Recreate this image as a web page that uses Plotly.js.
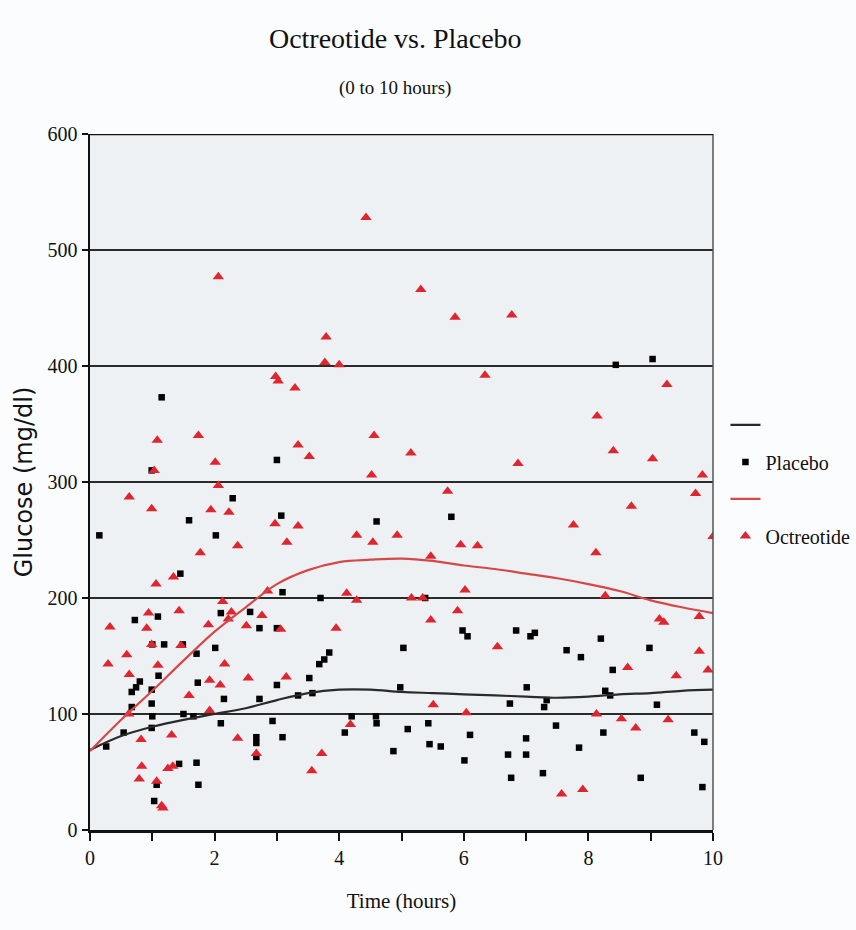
<!DOCTYPE html>
<html>
<head>
<meta charset="utf-8">
<script src="https://cdn.plot.ly/plotly-3.0.1.min.js"></script>
<style>html,body{margin:0;padding:0;background:#fafcfd;}</style>
</head>
<body>
<div id="chart" style="width:856px;height:930px;"></div>
<script>
// Placebo individual measurements
const placeboX = [0.15,0.26,0.54,0.67,0.67,0.72,0.74,0.80,0.99,0.99,0.99,1.00,1.00,0.99,1.03,1.07,1.09,1.10,1.15,1.19,
  1.43,1.45,1.49,1.50,1.59,1.66,1.71,1.71,1.73,1.74,2.01,2.02,2.10,2.10,2.15,2.29,2.57,2.67,2.67,2.67,
  2.72,2.72,2.93,3.00,3.00,3.00,3.07,3.09,3.09,3.34,3.52,3.57,3.68,3.70,3.76,3.84,4.09,4.20,4.59,4.60,
  4.60,4.87,4.98,5.03,5.10,5.38,5.43,5.45,5.63,5.80,5.98,6.01,6.06,6.10,6.71,6.74,6.76,6.84,7.00,7.00,
  7.01,7.07,7.14,7.27,7.29,7.33,7.48,7.65,7.85,7.88,8.20,8.24,8.27,8.35,8.39,8.44,8.84,8.98,9.03,9.10,
  9.70,9.83,9.86];
const placeboY = [254,72,84,106,119,181,123,128,121,109,310,160,98,88,25,39,184,133,373,160,
  57,221,160,100,267,98,152,58,127,39,157,254,187,92,113,286,188,80,75,63,
  174,113,94,174,125,319,271,205,80,116,131,118,143,200,147,153,84,98,98,92,
  266,68,123,157,87,200,92,74,72,270,172,60,167,82,65,109,45,172,79,65,
  123,167,170,49,106,112,90,155,71,149,165,84,120,116,138,401,45,157,406,108,
  84,37,76];

// Octreotide individual measurements
const octX = [0.29,0.32,0.59,0.62,0.63,0.63,0.79,0.82,0.83,0.91,0.94,0.99,0.99,1.03,1.06,1.07,1.08,1.09,1.15,1.17,
  1.25,1.31,1.33,1.34,1.43,1.46,1.59,1.74,1.77,1.90,1.92,1.92,1.94,2.01,2.06,2.06,2.09,2.13,2.16,2.22,
  2.23,2.27,2.37,2.37,2.51,2.54,2.67,2.76,2.85,2.97,2.98,3.02,3.06,3.15,3.16,3.29,3.34,3.34,3.52,3.56,
  3.72,3.77,3.79,3.95,4.00,4.12,4.18,4.28,4.28,4.43,4.52,4.54,4.56,4.93,5.15,5.16,5.31,5.34,5.47,5.47,
  5.51,5.74,5.86,5.90,5.95,6.02,6.04,6.22,6.34,6.54,6.77,6.87,7.57,7.76,7.91,8.12,8.13,8.14,8.27,8.40,
  8.53,8.63,8.69,8.76,9.03,9.14,9.21,9.26,9.28,9.41,9.72,9.78,9.78,9.83,9.92,10.0];
const octY = [143,175,151,100,134,287,44,78,55,174,187,160,277,310,212,42,336,142,21,19,
  53,82,55,218,189,159,116,340,239,177,129,103,276,317,297,477,125,197,143,182,
  274,188,245,79,176,131,66,185,206,264,391,387,173,132,248,381,332,262,322,51,
  66,403,425,174,401,204,91,198,254,528,306,248,340,254,325,200,466,200,236,181,
  108,292,442,189,246,207,101,245,392,158,444,316,31,263,35,239,100,357,202,327,
  96,140,279,88,320,182,179,384,95,133,290,184,154,306,138,253];

// Smoothed trend lines
const trendX = [0,0.5,1,1.5,2,2.5,3,3.5,4,4.5,5,5.5,6,6.5,7,7.5,8,8.5,9,9.5,10];
const placeboTrend = [69,81,89,95,100,105,112,118,121,121,119,118,117,116,115,114,115,117,118,120,121];
const octTrend = [68,95,120,146,171,192,212,224,231,233,234,232,228,225,221,217,212,206,198,192,187];

const xTicks = [0,1,2,3,4,5,6,7,8,9,10];
const xTickText = ['0','','2','','4','','6','','8','','10'];
const yTicks = [0,100,200,300,400,500,600];

const traces = [
  {x: placeboX, y: placeboY, type:'scatter', mode:'markers', name:'Placebo', legendgroup:'b', legendrank:2,
   marker:{symbol:'square', size:6.5, color:'#000'}},
  {x: octX, y: octY, type:'scatter', mode:'markers', name:'Octreotide', legendgroup:'d', legendrank:4,
   marker:{symbol:'triangle-up', size:10, color:'rgb(222,38,48)'}},
  {x: trendX, y: placeboTrend, type:'scatter', mode:'lines', name:' ', legendgroup:'a', legendrank:1,
   line:{color:'#2a2a2a', width:2.2, shape:'spline'}},
  {x: trendX, y: octTrend, type:'scatter', mode:'lines', name:' ', legendgroup:'c', legendrank:3,
   line:{color:'rgb(214,72,72)', width:2.2, shape:'spline'}}
];

const serif = 'Liberation Serif, Times New Roman, serif';
const layout = {
  width:856, height:930,
  paper_bgcolor:'#fafcfd', plot_bgcolor:'#eef1f4',
  margin:{l:90, r:143, t:134, b:100, autoexpand:false},
  title:{text:'Octreotide vs. Placebo', font:{family:serif, size:28, color:'#111'},
         xref:'paper', x:0.49, xanchor:'center', yref:'container', y:1-38/930, yanchor:'middle'},
  annotations:[{text:'(0 to 10 hours)', xref:'paper', yref:'paper', x:0.49, y:(830-88)/696,
    xanchor:'center', yanchor:'middle', showarrow:false, font:{family:serif, size:19, color:'#111'}}],
  xaxis:{range:[0,10], tickvals:xTicks, ticktext:xTickText, ticks:'outside', ticklen:8, tickwidth:2,
    tickcolor:'#111', showline:true, linecolor:'#111', linewidth:2.5, showgrid:false, zeroline:false,
    tickfont:{family:serif, size:20, color:'#111'}, automargin:false,
    title:{text:'Time (hours)', font:{family:serif, size:21, color:'#111'}, standoff:26}},
  yaxis:{range:[0,600], tickvals:yTicks, ticks:'outside', ticklen:6, tickwidth:2, tickcolor:'#111',
    showline:true, linecolor:'#111', linewidth:2.5, showgrid:true, gridcolor:'#2b2b2b', gridwidth:2,
    zeroline:false, tickfont:{family:serif, size:20, color:'#111'}, automargin:false,
    title:{text:'Glucose (mg/dl)', font:{family:'DejaVu Sans, sans-serif', size:24, color:'#111'}, standoff:8}},
  shapes:[
    {type:'line', xref:'paper', yref:'paper', x0:1, x1:1, y0:0, y1:1, line:{color:'#555', width:1.5}},
    {type:'line', xref:'paper', yref:'y', x0:0, x1:1, y0:600, y1:600, line:{color:'#111', width:2.5}}
  ],
  legend:{x:1.02, xanchor:'left', y:0.61, yanchor:'top', traceorder:'grouped', tracegroupgap:8,
    bgcolor:'rgba(0,0,0,0)', font:{family:serif, size:20, color:'#111'}},
  showlegend:true
};

Plotly.newPlot('chart', traces, layout, {displayModeBar:false, staticPlot:true});
</script>
</body>
</html>
